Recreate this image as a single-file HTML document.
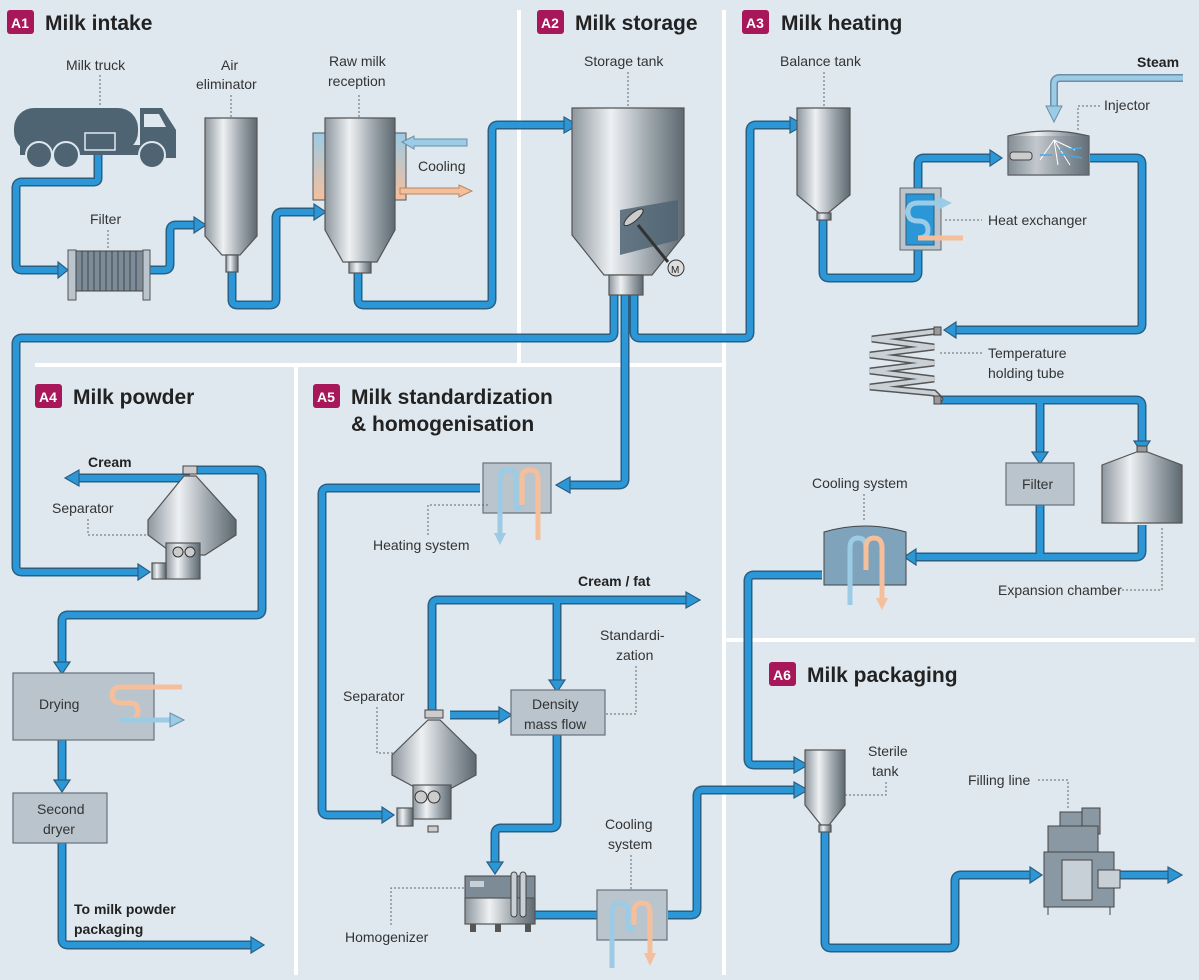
<!DOCTYPE html>
<html><head><meta charset="utf-8"><style>
html,body{margin:0;padding:0;background:#dfe8ef;}
svg{display:block;font-family:"Liberation Sans",sans-serif;}
.po{fill:none;stroke:#2a5f84;stroke-width:9;stroke-linejoin:round;}
.pi{fill:none;stroke:#2c97d6;stroke-width:6;stroke-linejoin:round;}
.ah{fill:#2c97d6;stroke:#2a5f84;stroke-width:1.2;}
.t{font-size:14px;fill:#333;}
.b{font-size:14px;fill:#222;font-weight:bold;}
.h{font-size:21px;fill:#222;font-weight:bold;}
.bd{fill:#a8175a;}
.bt{font-size:14px;fill:#fff;font-weight:bold;}
.ld{fill:none;stroke:#666;stroke-width:1;stroke-dasharray:2 2;}
.tank{fill:url(#g);stroke:#555;stroke-width:1.2;}
.box{fill:#b9c4cd;stroke:#66727c;stroke-width:1.2;}
</style></head><body>
<svg width="1199" height="980" viewBox="0 0 1199 980">
<defs>
<linearGradient id="g" x1="0" x2="1"><stop offset="0" stop-color="#8d969e"/><stop offset=".35" stop-color="#eef1f3"/><stop offset=".7" stop-color="#9aa3aa"/><stop offset="1" stop-color="#5d6870"/></linearGradient>
<linearGradient id="hc" x1="0" y1="0" x2="0" y2="1"><stop offset="0" stop-color="#9ccbe6"/><stop offset="1" stop-color="#f5bf9c"/></linearGradient>
</defs>
<rect width="1199" height="980" fill="#dfe8ef"/>
<g stroke="#fff" stroke-width="4">
<line x1="519" y1="10" x2="519" y2="365"/>
<line x1="724" y1="10" x2="724" y2="975"/>
<line x1="35" y1="365" x2="724" y2="365"/>
<line x1="296" y1="367" x2="296" y2="975"/>
<line x1="724" y1="640" x2="1195" y2="640"/>
</g>
<rect class="bd" x="7" y="10" width="27" height="24" rx="3"/><text class="bt" x="11" y="28">A1</text><text class="h" x="45" y="30">Milk intake</text>
<rect class="bd" x="537" y="10" width="27" height="24" rx="3"/><text class="bt" x="541" y="28">A2</text><text class="h" x="575" y="30">Milk storage</text>
<rect class="bd" x="742" y="10" width="27" height="24" rx="3"/><text class="bt" x="746" y="28">A3</text><text class="h" x="781" y="30">Milk heating</text>
<rect class="bd" x="35" y="384" width="27" height="24" rx="3"/><text class="bt" x="39" y="402">A4</text><text class="h" x="73" y="404">Milk powder</text>
<rect class="bd" x="313" y="384" width="27" height="24" rx="3"/><text class="bt" x="317" y="402">A5</text><text class="h" x="351" y="404">Milk standardization</text><text class="h" x="351" y="431">&amp; homogenisation</text>
<rect class="bd" x="769" y="662" width="27" height="24" rx="3"/><text class="bt" x="773" y="680">A6</text><text class="h" x="807" y="682">Milk packaging</text>

<g>
<path class="po" d="M98 150V178Q98 182 94 182H22Q16 182 16 188V264Q16 270 22 270H62"/>
<path class="po" d="M150 270H164Q170 270 170 264V231Q170 225 176 225H198"/>
<path class="po" d="M232 270V300Q232 305 238 305H270Q276 305 276 299V218Q276 212 282 212H318"/>
<path class="po" d="M358 270V299Q358 305 364 305H486Q492 305 492 299V131Q492 125 498 125H568"/>
<path class="po" d="M614 295V332Q614 338 608 338H22Q16 338 16 344V566Q16 572 22 572H142"/>
<path class="po" d="M634 295V332Q634 338 640 338H744Q750 338 750 332V131Q750 125 756 125H794"/>
<path class="po" d="M625 295V479Q625 485 619 485H566"/>
<path class="po" d="M823 218V272Q823 278 829 278H912Q918 278 918 272V164Q918 158 924 158H994"/>
<path class="po" d="M1090 158H1136Q1142 158 1142 164V324Q1142 330 1136 330H952"/>
<path class="po" d="M940 400H1136Q1142 400 1142 406V443M1040 400V455"/>
<path class="po" d="M1040 505V557M1142 525V551Q1142 557 1136 557H912"/>
<path class="po" d="M822 575H754Q748 575 748 581V759Q748 765 754 765H798"/>
<path class="po" d="M825 830V942Q825 948 831 948H949Q955 948 955 942V881Q955 875 961 875H1033"/>
<path class="po" d="M1120 875H1172"/>
<path class="po" d="M190 470H256Q262 470 262 476V609Q262 615 256 615H68Q62 615 62 621V665"/>
<path class="po" d="M190 478H75"/>
<path class="po" d="M62 740V783M62 843V939Q62 945 68 945H255"/>
<path class="po" d="M480 488H328Q322 488 322 494V809Q322 815 328 815H386"/>
<path class="po" d="M432 712V606Q432 600 438 600H690M557 600V683M450 715H503"/>
<path class="po" d="M557 735V822Q557 828 551 828H501Q495 828 495 834V866"/>
<path class="po" d="M535 915H600M668 915H691Q697 915 697 909V796Q697 790 703 790H798"/>
</g>
<g>
<path class="pi" d="M98 150V178Q98 182 94 182H22Q16 182 16 188V264Q16 270 22 270H62"/>
<path class="pi" d="M150 270H164Q170 270 170 264V231Q170 225 176 225H198"/>
<path class="pi" d="M232 270V300Q232 305 238 305H270Q276 305 276 299V218Q276 212 282 212H318"/>
<path class="pi" d="M358 270V299Q358 305 364 305H486Q492 305 492 299V131Q492 125 498 125H568"/>
<path class="pi" d="M614 295V332Q614 338 608 338H22Q16 338 16 344V566Q16 572 22 572H142"/>
<path class="pi" d="M634 295V332Q634 338 640 338H744Q750 338 750 332V131Q750 125 756 125H794"/>
<path class="pi" d="M625 295V479Q625 485 619 485H566"/>
<path class="pi" d="M823 218V272Q823 278 829 278H912Q918 278 918 272V164Q918 158 924 158H994"/>
<path class="pi" d="M1090 158H1136Q1142 158 1142 164V324Q1142 330 1136 330H952"/>
<path class="pi" d="M940 400H1136Q1142 400 1142 406V443M1040 400V455"/>
<path class="pi" d="M1040 505V557M1142 525V551Q1142 557 1136 557H912"/>
<path class="pi" d="M822 575H754Q748 575 748 581V759Q748 765 754 765H798"/>
<path class="pi" d="M825 830V942Q825 948 831 948H949Q955 948 955 942V881Q955 875 961 875H1033"/>
<path class="pi" d="M1120 875H1172"/>
<path class="pi" d="M190 470H256Q262 470 262 476V609Q262 615 256 615H68Q62 615 62 621V665"/>
<path class="pi" d="M190 478H75"/>
<path class="pi" d="M62 740V783M62 843V939Q62 945 68 945H255"/>
<path class="pi" d="M480 488H328Q322 488 322 494V809Q322 815 328 815H386"/>
<path class="pi" d="M432 712V606Q432 600 438 600H690M557 600V683M450 715H503"/>
<path class="pi" d="M557 735V822Q557 828 551 828H501Q495 828 495 834V866"/>
<path class="pi" d="M535 915H600M668 915H691Q697 915 697 909V796Q697 790 703 790H798"/>
</g>
<g class="ah">
<polygon points="58,262 68,270 58,278"/>
<polygon points="194,217 206,225 194,233"/>
<polygon points="314,204 326,212 314,220"/>
<polygon points="564,117 578,125 564,133"/>
<polygon points="138,564 150,572 138,580"/>
<polygon points="790,117 804,125 790,133"/>
<polygon points="570,477 556,485 570,493"/>
<polygon points="990,150 1002,158 990,166"/>
<polygon points="956,322 944,330 956,338"/>
<polygon points="1134,441 1142,453 1150,441"/>
<polygon points="1032,452 1040,464 1048,452"/>
<polygon points="916,549 904,557 916,565"/>
<polygon points="794,757 808,765 794,773"/>
<polygon points="1030,867 1042,875 1030,883"/>
<polygon points="1168,867 1182,875 1168,883"/>
<polygon points="79,470 65,478 79,486"/>
<polygon points="54,662 62,674 70,662"/>
<polygon points="54,780 62,792 70,780"/>
<polygon points="251,937 264,945 251,953"/>
<polygon points="382,807 394,815 382,823"/>
<polygon points="686,592 700,600 686,608"/>
<polygon points="549,680 557,692 565,680"/>
<polygon points="499,707 512,715 499,723"/>
<polygon points="487,862 495,874 503,862"/>
<polygon points="794,782 808,790 794,798"/>
</g>

<text class="t" x="66" y="70">Milk truck</text><line class="ld" x1="100" y1="75" x2="100" y2="107"/>
<g fill="#4f6473">
<rect x="14" y="108" width="124" height="44" rx="20"/>
<path d="M140 108H162L176 130V158H140Z"/>
<rect x="20" y="145" width="156" height="10"/>
<circle cx="39" cy="155" r="13" stroke="#dfe8ef" stroke-width="2"/><circle cx="66" cy="155" r="13" stroke="#dfe8ef" stroke-width="2"/><circle cx="152" cy="155" r="13" stroke="#dfe8ef" stroke-width="2"/>
</g>
<path d="M144 114H159L166 127H144Z" fill="#dfe8ef"/>
<rect x="85" y="133" width="30" height="17" fill="#4f6473" stroke="#dfe8ef" stroke-width="1.5"/>
<text class="t" x="90" y="224">Filter</text><line class="ld" x1="108" y1="230" x2="108" y2="250"/>
<rect x="68" y="250" width="8" height="50" fill="#b9c4cd" stroke="#555"/>
<rect x="76" y="251" width="67" height="40" fill="#7d8b96" stroke="#444"/>
<g stroke="#3a4650"><line x1="82" y1="251" x2="82" y2="291"/><line x1="88" y1="251" x2="88" y2="291"/><line x1="94" y1="251" x2="94" y2="291"/><line x1="100" y1="251" x2="100" y2="291"/><line x1="106" y1="251" x2="106" y2="291"/><line x1="112" y1="251" x2="112" y2="291"/><line x1="118" y1="251" x2="118" y2="291"/><line x1="124" y1="251" x2="124" y2="291"/><line x1="130" y1="251" x2="130" y2="291"/><line x1="136" y1="251" x2="136" y2="291"/></g>
<rect x="143" y="250" width="7" height="50" fill="#b9c4cd" stroke="#555"/>
<text class="t" x="221" y="70">Air</text><text class="t" x="196" y="89">eliminator</text><line class="ld" x1="231" y1="95" x2="231" y2="118"/>
<path class="tank" d="M205 118H257V236L240 255H222L205 236Z"/>
<rect x="226" y="255" width="12" height="17" class="tank"/>
<text class="t" x="329" y="66">Raw milk</text><text class="t" x="328" y="86">reception</text><line class="ld" x1="359" y1="95" x2="359" y2="118"/>
<rect x="313" y="133" width="12" height="67" fill="url(#hc)" stroke="#555"/>
<rect x="394" y="133" width="12" height="67" fill="url(#hc)" stroke="#555"/>
<path class="tank" d="M325 118H395V230L377 262H343L325 230Z"/>
<rect x="349" y="262" width="22" height="11" class="tank"/>
<path d="M402 142L414 136V139H467V146H414V149Z" fill="#9ccbe6" stroke="#6a8ea6"/>
<path d="M400 188H459V185L472 191L459 197V194H400Z" fill="#f5bf9c" stroke="#b98462"/>
<text class="t" x="418" y="171">Cooling</text>

<text class="t" x="584" y="66">Storage tank</text><line class="ld" x1="628" y1="72" x2="628" y2="108"/>
<path class="tank" d="M572 108H684V235L652 275H604L572 235Z"/>
<path d="M620 210L678 200V240L620 255Z" fill="#4f6473" opacity=".85"/>
<line x1="638" y1="225" x2="668" y2="262" stroke="#333" stroke-width="3"/>
<ellipse cx="640" cy="215" rx="12" ry="4" fill="#ccc" stroke="#333" transform="rotate(-40 640 225)"/>
<circle cx="676" cy="268" r="8" fill="#ddd" stroke="#333"/><text x="671" y="273" font-size="10" fill="#222">M</text>
<rect x="609" y="275" width="34" height="20" class="tank"/>

<text class="t" x="780" y="66">Balance tank</text><line class="ld" x1="824" y1="72" x2="824" y2="108"/>
<path class="tank" d="M797 108H850V195L828 213H819L797 195Z"/>
<rect x="817" y="213" width="14" height="7" class="tank"/>
<text class="b" x="1137" y="67">Steam</text>
<path d="M1183 78H1060Q1054 78 1054 84V108" fill="none" stroke="#6a8ea6" stroke-width="8"/>
<path d="M1183 78H1060Q1054 78 1054 84V108" fill="none" stroke="#9ccbe6" stroke-width="5"/>
<polygon points="1046,106 1062,106 1054,122" fill="#9ccbe6" stroke="#6a8ea6"/>
<text class="t" x="1104" y="110">Injector</text><path class="ld" d="M1100 106H1078V130"/>
<path class="tank" d="M1008 136Q1048 126 1089 136V175H1008Z"/>
<rect x="1008" y="136" width="81" height="39" fill="#6f7c86" opacity=".35"/>
<rect x="1010" y="152" width="22" height="8" rx="3" fill="#ccc" stroke="#444"/>
<g stroke="#fff" stroke-width="1"><line x1="1054" y1="140" x2="1040" y2="160"/><line x1="1054" y1="140" x2="1075" y2="150"/><line x1="1054" y1="140" x2="1070" y2="165"/><line x1="1054" y1="140" x2="1058" y2="165"/></g>
<g stroke="#4aa6dc" stroke-width="1.5"><line x1="1060" y1="150" x2="1082" y2="148"/><line x1="1060" y1="154" x2="1082" y2="158"/><line x1="1040" y1="155" x2="1052" y2="155"/></g>
<rect x="900" y="188" width="41" height="62" fill="#b9c4cd" stroke="#666"/>
<rect x="906" y="194" width="28" height="51" fill="#2c97d6" stroke="#2a5f84"/>
<path d="M938 203H918Q908 203 908 212Q908 221 918 221Q928 221 928 230Q928 238 918 238" fill="none" stroke="#9ccbe6" stroke-width="5"/>
<path d="M918 238H963" stroke="#f5bf9c" stroke-width="5"/>
<polygon points="938,196 952,203 938,210" fill="#9ccbe6"/>
<text class="t" x="988" y="225">Heat exchanger</text><line class="ld" x1="945" y1="220" x2="982" y2="220"/>
<g fill="none" stroke="#555" stroke-width="7" stroke-linecap="round"><path d="M938 331L872 339L934 347L870 355L934 363L870 371L934 379L870 387L934 393L940 399"/></g>
<g fill="none" stroke="#c9d1d7" stroke-width="4" stroke-linecap="round"><path d="M938 331L872 339L934 347L870 355L934 363L870 371L934 379L870 387L934 393L940 399"/></g>
<rect x="934" y="327" width="7" height="8" fill="#999" stroke="#444"/><rect x="934" y="396" width="7" height="8" fill="#999" stroke="#444"/>
<text class="t" x="988" y="358">Temperature</text><text class="t" x="988" y="378">holding tube</text><line class="ld" x1="940" y1="353" x2="982" y2="353"/>
<rect x="1006" y="463" width="68" height="42" class="box"/><text class="t" x="1022" y="489">Filter</text>
<path class="tank" d="M1102 465L1142 450L1182 465V523H1102Z"/>
<rect x="1137" y="446" width="10" height="6" fill="#999" stroke="#444"/>
<text class="t" x="998" y="595">Expansion chamber</text><path class="ld" d="M1110 590H1162V528"/>
<text class="t" x="812" y="488">Cooling system</text><line class="ld" x1="864" y1="494" x2="864" y2="522"/>
<path d="M824 532Q865 520 906 532V585H824Z" fill="#7fa3bb" stroke="#444"/>
<path d="M850 605V548Q850 538 858 538Q866 538 866 548V570" fill="none" stroke="#9ccbe6" stroke-width="5"/>
<path d="M866 570V548Q866 538 874 538Q882 538 882 548V600" fill="none" stroke="#f5bf9c" stroke-width="5"/>
<polygon points="876,598 888,598 882,610" fill="#f5bf9c"/>

<text class="t" x="868" y="756">Sterile</text><text class="t" x="872" y="776">tank</text><path class="ld" d="M886 782V795H845"/>
<path class="tank" d="M805 750H845V805L829 825H821L805 805Z"/>
<rect x="819" y="825" width="12" height="7" class="tank"/>
<text class="t" x="968" y="785">Filling line</text><path class="ld" d="M1038 780H1068V810"/>
<g stroke="#444" fill="#8a98a3">
<rect x="1060" y="812" width="22" height="14"/><rect x="1082" y="808" width="18" height="26"/>
<rect x="1048" y="826" width="50" height="26"/>
<rect x="1044" y="852" width="70" height="55"/>
<rect x="1062" y="860" width="30" height="40" fill="#c7d0d7"/>
<rect x="1098" y="870" width="22" height="18" fill="#c7d0d7"/>
<line x1="1048" y1="907" x2="1048" y2="915"/><line x1="1110" y1="907" x2="1110" y2="915"/>
</g>

<text class="b" x="88" y="467">Cream</text>
<text class="t" x="52" y="513">Separator</text><path class="ld" d="M88 519V535H150"/>
<rect x="183" y="466" width="14" height="8" fill="#ccc" stroke="#444"/>
<path class="tank" d="M184 476H196L236 520V535L205 555H175L148 535V520Z"/>
<rect x="166" y="543" width="34" height="36" class="tank"/>
<circle cx="178" cy="552" r="5" fill="#ccc" stroke="#333"/><circle cx="190" cy="552" r="5" fill="#ccc" stroke="#333"/>
<rect x="152" y="563" width="14" height="16" class="tank"/>
<rect x="13" y="673" width="141" height="67" class="box"/><text class="t" x="39" y="709">Drying</text>
<path d="M182 687H122Q112 687 112 695Q112 703 122 703H130Q138 703 138 711Q138 720 128 720H120" fill="none" stroke="#f5bf9c" stroke-width="5"/>
<path d="M120 720H172" stroke="#9ccbe6" stroke-width="5"/>
<polygon points="170,713 184,720 170,727" fill="#9ccbe6" stroke="#6a8ea6"/>
<rect x="13" y="793" width="94" height="50" class="box"/><text class="t" x="37" y="814">Second</text><text class="t" x="43" y="834">dryer</text>
<text class="b" x="74" y="914">To milk powder</text><text class="b" x="74" y="934">packaging</text>

<rect x="483" y="463" width="68" height="50" class="box"/>
<path d="M500 535V478Q500 470 508 470Q516 470 516 478V505Q516 512 522 505V478Q522 470 530 470Q538 470 538 478V540" fill="none" stroke="#9ccbe6" stroke-width="5"/>
<path d="M522 505V478Q522 470 530 470Q538 470 538 478V540" fill="none" stroke="#f5bf9c" stroke-width="5"/>
<polygon points="494,533 506,533 500,545" fill="#9ccbe6"/>
<text class="t" x="373" y="550">Heating system</text><path class="ld" d="M428 535V505H490"/>
<text class="b" x="578" y="586">Cream / fat</text>
<text class="t" x="600" y="640">Standardi-</text><text class="t" x="616" y="660">zation</text><path class="ld" d="M636 666V714H606"/>
<rect x="511" y="690" width="94" height="45" class="box"/><text class="t" x="532" y="709">Density</text><text class="t" x="524" y="729">mass flow</text>
<text class="t" x="343" y="701">Separator</text><path class="ld" d="M377 707V753H405"/>
<rect x="425" y="710" width="18" height="8" fill="#ccc" stroke="#444"/>
<path class="tank" d="M428 720H440L476 755V775L448 790H420L392 775V755Z"/>
<rect x="413" y="785" width="38" height="34" class="tank"/>
<circle cx="421" cy="797" r="6" fill="#ccc" stroke="#333"/><circle cx="434" cy="797" r="6" fill="#ccc" stroke="#333"/>
<rect x="397" y="808" width="16" height="18" class="tank"/>
<rect x="428" y="826" width="10" height="6" fill="#ccc" stroke="#444"/>
<rect x="465" y="876" width="70" height="22" fill="#7d8b96" stroke="#444"/>
<rect x="470" y="881" width="14" height="6" fill="#c7d0d7"/>
<rect x="465" y="898" width="70" height="26" class="tank"/>
<rect x="511" y="872" width="6" height="45" rx="3" fill="#c7d0d7" stroke="#444"/><rect x="520" y="872" width="6" height="45" rx="3" fill="#c7d0d7" stroke="#444"/>
<rect x="470" y="924" width="6" height="8" fill="#555"/><rect x="495" y="924" width="6" height="8" fill="#555"/><rect x="525" y="924" width="6" height="8" fill="#555"/>
<text class="t" x="345" y="942">Homogenizer</text><path class="ld" d="M391 925V888H465"/>
<text class="t" x="605" y="829">Cooling</text><text class="t" x="608" y="849">system</text><line class="ld" x1="631" y1="855" x2="631" y2="890"/>
<rect x="597" y="890" width="70" height="50" class="box"/>
<path d="M612 968V912Q612 903 620 903Q628 903 628 912V925Q628 935 634 925" fill="none" stroke="#9ccbe6" stroke-width="5"/>
<path d="M634 925V912Q634 903 642 903Q650 903 650 912V955" fill="none" stroke="#f5bf9c" stroke-width="5"/>
<polygon points="644,953 656,953 650,966" fill="#f5bf9c"/>
</svg>
</body></html>
